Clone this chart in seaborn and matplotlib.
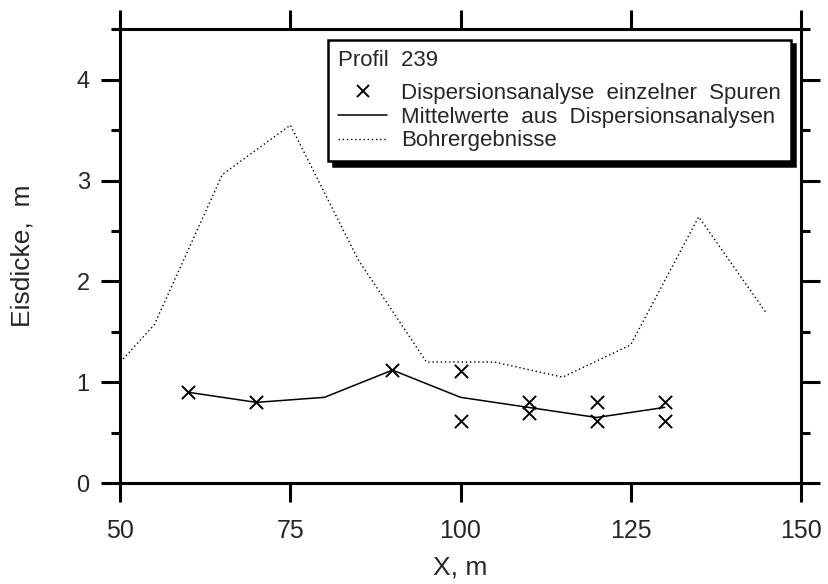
import matplotlib
matplotlib.use("Agg")
import matplotlib.pyplot as plt
import seaborn as sns
import pandas as pd
from matplotlib.ticker import MultipleLocator
from matplotlib.lines import Line2D

# ---- data ----
bohr_x = [50, 55, 65, 75, 85, 95, 100, 105, 115, 125, 135, 145]
bohr_y = [1.20, 1.57, 3.06, 3.55, 2.21, 1.20, 1.20, 1.20, 1.05, 1.37, 2.64, 1.68]

mean_x = [60, 70, 80, 90, 100, 110, 120, 130]
mean_y = [0.90, 0.80, 0.85, 1.12, 0.85, 0.75, 0.65, 0.75]

single_x = [60, 70, 90, 100, 100, 110, 110, 120, 120, 130, 130]
single_y = [0.90, 0.80, 1.12, 1.11, 0.62, 0.80, 0.69, 0.80, 0.62, 0.80, 0.62]

legend_title = "Profil  239"
lab_single = "Dispersionsanalyse  einzelner  Spuren"
lab_mean = "Mittelwerte  aus  Dispersionsanalysen"
lab_bohr = "Bohrergebnisse"

x_ticks = [50, 75, 100, 125, 150]
y_ticks = [0, 1, 2, 3, 4]

sns.set_style("ticks")
plt.rcParams['font.family'] = ['Liberation Sans', 'DejaVu Sans']

fig = plt.figure(figsize=(8.29, 5.84), dpi=100)
ax = fig.add_axes([0.1451, 0.1729, 0.8208, 0.7769])

df_b = pd.DataFrame({"x": bohr_x, "y": bohr_y})
df_m = pd.DataFrame({"x": mean_x, "y": mean_y})
df_s = pd.DataFrame({"x": single_x, "y": single_y})

sns.lineplot(data=df_b, x="x", y="y", ax=ax, color="black", linewidth=1.0,
             linestyle=(0, (1, 2)), sort=False, estimator=None)
sns.lineplot(data=df_m, x="x", y="y", ax=ax, color="black", linewidth=1.1,
             sort=False, estimator=None)
sns.scatterplot(data=df_s, x="x", y="y", ax=ax, marker="x", color="black",
                s=90, linewidth=1.4)

ax.set_xlim(50, 150)
ax.set_ylim(0, 4.5)
ax.set_xticks(x_ticks)
ax.set_xticklabels([str(v) for v in x_ticks])
ax.set_yticks(y_ticks)
ax.set_yticklabels([str(v) for v in y_ticks])
ax.yaxis.set_minor_locator(MultipleLocator(0.5))

for sp in ax.spines.values():
    sp.set_visible(True)
    sp.set_linewidth(2.2)
    sp.set_color("black")

ax.tick_params(axis="both", which="major", direction="out", length=14, width=2.2,
               top=True, right=True, color="black")
ax.tick_params(axis="y", which="minor", direction="out", length=6.5, width=2.2,
               left=True, right=True, color="black")
ax.tick_params(axis="x", which="major", labelsize=18, pad=12)
ax.tick_params(axis="y", which="major", labelsize=17, pad=8)

ax.set_xlabel("X, m", fontsize=19, labelpad=9)
ax.set_ylabel("Eisdicke,  m", fontsize=19, labelpad=30)

handles = [
    Line2D([], [], linestyle="none", marker="x", color="black", markersize=9, markeredgewidth=1.4),
    Line2D([], [], color="black", linewidth=1.1),
    Line2D([], [], color="black", linewidth=1.0, linestyle=(0, (1, 2))),
]
leg = ax.legend(handles, [lab_single, lab_mean, lab_bohr], title=legend_title,
                loc="upper right", bbox_to_anchor=(0.986, 0.976), borderaxespad=0,
                fontsize=16, title_fontsize=16, alignment="left",
                frameon=True, fancybox=False, edgecolor="black", framealpha=1,
                handlelength=2.2, handletextpad=0.63, labelspacing=0.12,
                borderpad=0.45,
                shadow={"ox": 3, "oy": -3, "facecolor": "black", "edgecolor": "black", "alpha": 1})
leg.get_frame().set_linewidth(1.8)
leg._legend_box.sep = 8.5

fig.savefig("out.png", dpi=100)
